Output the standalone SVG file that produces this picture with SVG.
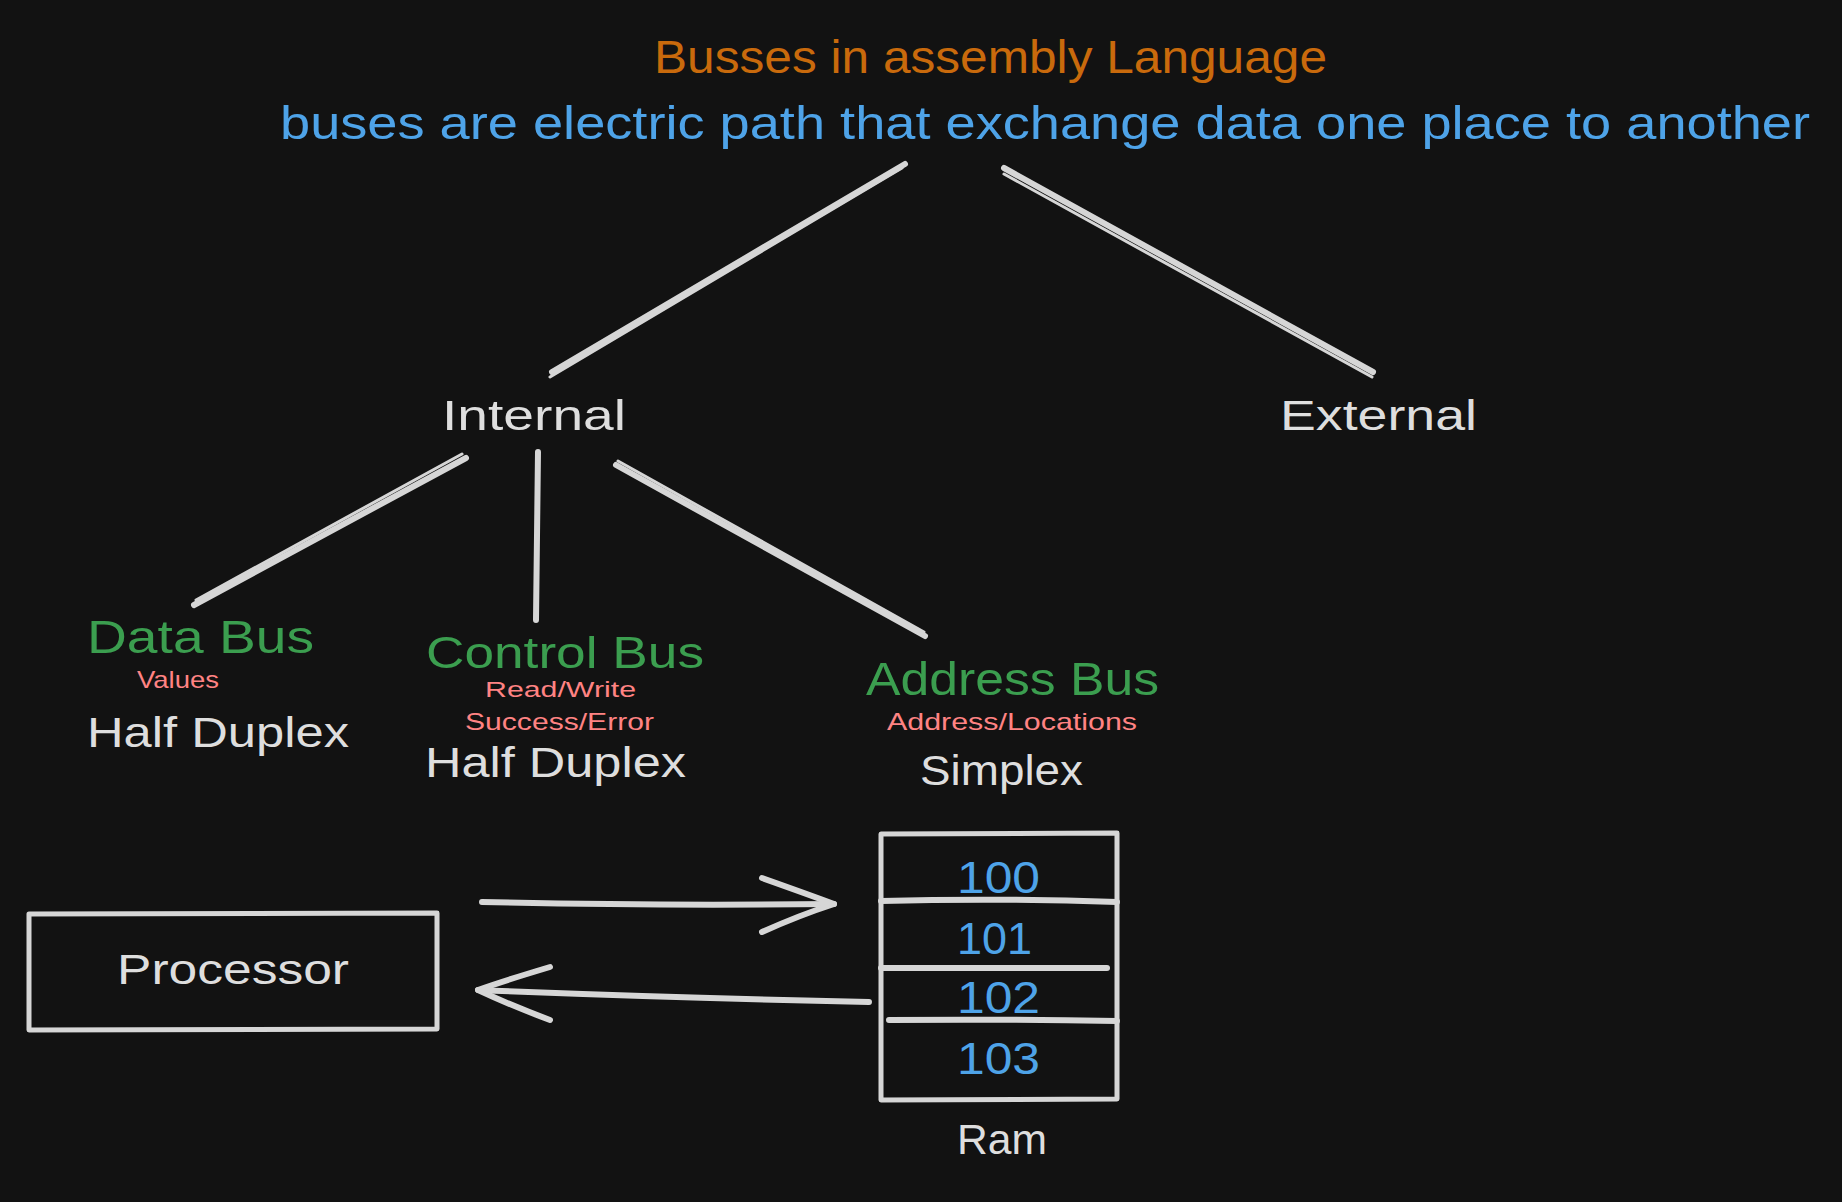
<svg xmlns="http://www.w3.org/2000/svg" width="1842" height="1202" viewBox="0 0 1842 1202">
  <defs>
    <style>
      text { font-family: "Liberation Sans", "DejaVu Sans", sans-serif; }
      .title { fill: #c96a0c; font-size: 46px; }
      .sub { fill: #4ea3e8; font-size: 46px; }
      .node { fill: #dedede; font-size: 42px; }
      .bus { fill: #3b9e4f; font-size: 46px; }
      .note { fill: #ff8383; font-size: 24px; }
      .mode { fill: #dedede; font-size: 42px; }
      .num { fill: #4ea3e8; font-size: 44px; }
      .line { fill: none; stroke: #d6d6d6; stroke-linecap: round; stroke-linejoin: round; }
      .thick { stroke-width: 6; }
      .thin { stroke-width: 3; }
      .box { fill: none; stroke: #d6d6d6; stroke-width: 5; stroke-linejoin: round; }
    </style>
  </defs>
  <rect width="1842" height="1202" fill="#121212"/>

  <g id="title">
    <text class="title" x="654" y="73" textLength="673" lengthAdjust="spacingAndGlyphs">Busses in assembly Language</text>
    <text class="sub" x="280" y="139" textLength="1530" lengthAdjust="spacingAndGlyphs">buses are electric path that exchange data one place to another</text>
  </g>

  <g id="internal">
    <text class="node" x="442" y="430" textLength="184" lengthAdjust="spacingAndGlyphs">Internal</text>
  </g>
  <g id="external">
    <text class="node" x="1280" y="430" textLength="197" lengthAdjust="spacingAndGlyphs">External</text>
  </g>

  <g id="data-bus">
    <text class="bus" x="87" y="653" textLength="227" lengthAdjust="spacingAndGlyphs">Data Bus</text>
    <text class="note" x="137" y="688" textLength="82" lengthAdjust="spacingAndGlyphs">Values</text>
    <text class="mode" x="87" y="747" textLength="262" lengthAdjust="spacingAndGlyphs">Half Duplex</text>
  </g>

  <g id="control-bus">
    <text class="bus" x="426" y="668" style="font-size:44px" textLength="278" lengthAdjust="spacingAndGlyphs">Control Bus</text>
    <text class="note" x="485" y="697" style="font-size:22px" textLength="151" lengthAdjust="spacingAndGlyphs">Read/Write</text>
    <text class="note" x="465" y="730" textLength="189" lengthAdjust="spacingAndGlyphs">Success/Error</text>
    <text class="mode" x="425" y="777" textLength="261" lengthAdjust="spacingAndGlyphs">Half Duplex</text>
  </g>

  <g id="address-bus">
    <text class="bus" x="866" y="695" textLength="293" lengthAdjust="spacingAndGlyphs">Address Bus</text>
    <text class="note" x="887" y="730" textLength="250" lengthAdjust="spacingAndGlyphs">Address/Locations</text>
    <text class="mode" x="920" y="785" textLength="163" lengthAdjust="spacingAndGlyphs">Simplex</text>
  </g>

  <g id="processor">
    <path class="box" d="M29 914 L437 913 L437 1029 L29 1030 Z"/>
    <text class="node" x="117" y="984" textLength="232" lengthAdjust="spacingAndGlyphs">Processor</text>
  </g>

  <g id="ram">
    <path class="box" d="M881 834 L1117 833 L1117 1099 L881 1100 Z"/>
    <path class="line thick" d="M881 901 Q1000 898 1117 902"/>
    <path class="line thick" d="M881 968 L1107 968"/>
    <path class="line thick" d="M889 1020 Q1000 1019 1117 1021"/>
    <text class="num" x="957" y="893" textLength="83" lengthAdjust="spacingAndGlyphs">100</text>
    <text class="num" x="957" y="954" textLength="75" lengthAdjust="spacingAndGlyphs">101</text>
    <text class="num" x="957" y="1013" textLength="83" lengthAdjust="spacingAndGlyphs">102</text>
    <text class="num" x="957" y="1074" textLength="83" lengthAdjust="spacingAndGlyphs">103</text>
    <text class="node" x="957" y="1154" textLength="90" lengthAdjust="spacingAndGlyphs">Ram</text>
  </g>

  <g id="connectors">
    <path class="line thick" d="M905 164 L552 372"/>
    <path class="line thin" d="M902 168 L550 377"/>
    <path class="line thick" d="M1004 168 L1373 372"/>
    <path class="line thin" d="M1004 174 L1372 377"/>
    <path class="line thick" d="M466 458 L194 605"/>
    <path class="line thin" d="M462 454 L196 600"/>
    <path class="line thick" d="M538 452 L536 620"/>
    <path class="line thick" d="M616 465 L925 636"/>
    <path class="line thin" d="M618 461 L924 632"/>
    <path class="line thick" d="M482 902 Q650 906 834 904"/>
    <path class="line thick" d="M762 878 Q810 895 834 904 Q800 915 762 932"/>
    <path class="line thick" d="M869 1002 Q680 998 478 990"/>
    <path class="line thick" d="M550 967 Q500 982 478 990 Q510 1005 550 1020"/>
  </g>
</svg>
